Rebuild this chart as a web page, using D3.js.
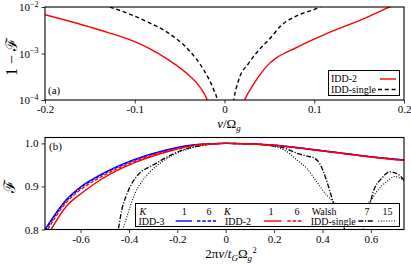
<!DOCTYPE html>
<html>
<head>
<meta charset="utf-8">
<script src="https://cdn.jsdelivr.net/npm/d3@7"></script>
<style>
  body { margin: 0; background: #fff; }
  svg text { font-family: "Liberation Serif", "Times New Roman", serif; fill: #000; }
  .domain { display: none; }
</style>
</head>
<body>
<svg id="chart" width="411" height="264"></svg>
<script>
// ---- panel (a): 1 - F vs nu/Omega_g (log y) ----
const idd2Nu  = [-0.2, -0.139, -0.1, -0.084, -0.062, -0.04, -0.025, -0.0193, 0, 0.0225, 0.0306, 0.0454, 0.0823, 0.1189, 0.1562, 0.184, 0.2];
const idd2Inf = [6.8e-3, 3.2e-3, 1.8e-3, 1.29e-3, 7.2e-4, 3.45e-4, 1.64e-4, 1e-4, 1e-6, 1e-4, 1.93e-4, 4.9e-4, 1.4e-3, 2.94e-3, 5.7e-3, 1e-2, 1.3e-2];
const singleNu  = [-0.135, -0.128, -0.084, -0.062, -0.04, -0.023, -0.012, -0.0082, 0, 0.0103, 0.0158, 0.0269, 0.0417, 0.0491, 0.0638, 0.0823, 0.1026, 0.11];
const singleInf = [1.1e-2, 1e-2, 4.6e-3, 2.72e-3, 1.19e-3, 4.4e-4, 1.64e-4, 1e-4, 1e-6, 1e-4, 2.7e-4, 6.15e-4, 1.4e-3, 1.95e-3, 4.1e-3, 6.7e-3, 9.3e-3, 1.1e-2];
const aXTicks = [-0.2, -0.1, 0, 0.1, 0.2];
const aYTicks = [1e-2, 1e-3, 1e-4];
const aYExp = ['\u22122', '\u22123', '\u22124'];

// ---- panel (b): F vs 2*pi*nu / t_G Omega_g^2 ----
const bU = [-0.747, -0.66, -0.589, -0.519, -0.382, -0.245, -0.106, 0, 0.1, 0.2, 0.3, 0.4, 0.5, 0.6, 0.737];
const idd3K1 = [0.800, 0.8686, 0.9035, 0.9267, 0.9616, 0.985, 0.998, 1.0, 0.999, 0.996, 0.990, 0.983, 0.976, 0.969, 0.9615];
const idd3K6 = [0.797, 0.866, 0.901, 0.925, 0.960, 0.984, 0.9975, 1.0, 0.999, 0.996, 0.990, 0.983, 0.976, 0.969, 0.9615];
const idd2K1 = [0.775, 0.853, 0.887, 0.915, 0.954, 0.980, 0.9965, 1.0, 0.9985, 0.9955, 0.9895, 0.9825, 0.9755, 0.9685, 0.9605];
const idd2K6 = [0.790, 0.862, 0.897, 0.921, 0.957, 0.982, 0.997, 1.0, 0.9985, 0.9955, 0.9895, 0.9825, 0.9755, 0.9685, 0.9605];
const walsh7U = [-0.46, -0.444, -0.43, -0.41, -0.39, -0.37, -0.35, -0.33, -0.3, -0.25, -0.2, -0.1, 0, 0.1, 0.18, 0.224, 0.266, 0.3, 0.34, 0.365, 0.39, 0.41, 0.43, 0.445, 0.465, 0.493, 0.53, 0.568, 0.59, 0.61, 0.645, 0.679, 0.713, 0.737];
const walsh7F = [0.76, 0.80, 0.845, 0.880, 0.905, 0.922, 0.934, 0.941, 0.950, 0.966, 0.980, 0.995, 1.0, 0.999, 0.995, 0.992, 0.984, 0.976, 0.970, 0.966, 0.952, 0.925, 0.89, 0.862, 0.83, 0.80, 0.77, 0.80, 0.845, 0.888, 0.919, 0.934, 0.928, 0.915];
const walsh15U = [-0.44, -0.425, -0.402, -0.375, -0.347, -0.313, -0.271, -0.217, -0.15, -0.08, 0, 0.1, 0.2, 0.252, 0.293, 0.335, 0.376, 0.417, 0.452, 0.5, 0.55, 0.596, 0.624, 0.665, 0.7, 0.737];
const walsh15F = [0.77, 0.80, 0.841, 0.884, 0.911, 0.934, 0.954, 0.973, 0.988, 0.997, 1.0, 0.999, 0.993, 0.981, 0.962, 0.942, 0.911, 0.880, 0.861, 0.85, 0.852, 0.865, 0.888, 0.911, 0.923, 0.913];
const bXTicks = [-0.6, -0.4, -0.2, 0, 0.2, 0.4, 0.6];
const bYTicks = [0.8, 0.9, 1.0];

const svg = d3.select('#chart');
svg.append('rect').attr('width', 411).attr('height', 264).attr('fill', '#fff');

const L = 45, R = 404;
const A = { top: 7, bottom: 100 };
const B = { top: 137.5, bottom: 229.5 };

const xa = d3.scaleLinear().domain([-0.2, 0.2]).range([L, R]);
const ya = d3.scaleLog().domain([1e-4, 1e-2]).range([A.bottom, A.top]);
const xb = d3.scaleLinear().domain([-0.747, 0.737]).range([L, R]);
const yb = d3.scaleLinear().domain([0.8, 1.0137]).range([B.bottom, B.top]);

const defs = svg.append('defs');
defs.append('clipPath').attr('id', 'clipA').append('rect')
  .attr('x', L).attr('y', A.top).attr('width', R - L).attr('height', A.bottom - A.top);
defs.append('clipPath').attr('id', 'clipB').append('rect')
  .attr('x', L).attr('y', B.top).attr('width', R - L).attr('height', B.bottom - B.top);

function styleAxis(g, size) {
  g.selectAll('.tick line').attr('stroke', '#000').attr('stroke-width', 0.8);
  g.selectAll('.tick text').attr('font-size', size || 11).attr('fill', '#000');
}

// ---- panel (a) ----
const gA = svg.append('g');
gA.append('g').attr('transform', `translate(0,${A.bottom})`)
  .call(d3.axisBottom(xa).tickValues(aXTicks).tickFormat(d => String(d)).tickSize(3.5).tickPadding(2))
  .call(g => styleAxis(g));
const ayAxis = gA.append('g').attr('transform', `translate(${L},0)`)
  .call(d3.axisLeft(ya).tickValues(aYTicks).tickFormat('').tickSize(3.5).tickPadding(3))
  .call(g => styleAxis(g));
ayAxis.selectAll('.tick text').each(function(d, i) {
  const t = d3.select(this).text(null).attr('dy', '0.35em');
  t.append('tspan').text('10');
  t.append('tspan').attr('font-size', 8).attr('dy', '-0.55em').text(aYExp[i]);
});

const lineA = (xs, ys) => d3.line().curve(d3.curveMonotoneX)
  .x((d, i) => xa(xs[i])).y((d, i) => ya(ys[i]))(xs);
const plotA = gA.append('g').attr('clip-path', 'url(#clipA)');
plotA.append('path').attr('d', lineA(singleNu, singleInf))
  .attr('fill', 'none').attr('stroke', '#000').attr('stroke-width', 1.4).attr('stroke-dasharray', '4,2.8');
plotA.append('path').attr('d', lineA(idd2Nu, idd2Inf))
  .attr('fill', 'none').attr('stroke', '#ff0000').attr('stroke-width', 1.4);

gA.append('rect').attr('x', L).attr('y', A.top).attr('width', R - L).attr('height', A.bottom - A.top)
  .attr('fill', 'none').attr('stroke', '#000').attr('stroke-width', 1.1);
gA.append('text').attr('x', 48).attr('y', 94).attr('font-size', 11).text('(a)');

// legend (a)
const legA = gA.append('g');
legA.append('rect').attr('x', 328.5).attr('y', 70.5).attr('width', 71).attr('height', 25)
  .attr('fill', '#fff').attr('stroke', '#000').attr('stroke-width', 1);
legA.append('text').attr('x', 331).attr('y', 82).attr('font-size', 10).text('IDD-2');
legA.append('line').attr('x1', 380).attr('x2', 396).attr('y1', 79).attr('y2', 79)
  .attr('stroke', '#ff0000').attr('stroke-width', 1.4);
legA.append('text').attr('x', 331).attr('y', 92.5).attr('font-size', 10).text('IDD-single');
legA.append('line').attr('x1', 378).attr('x2', 396).attr('y1', 89.5).attr('y2', 89.5)
  .attr('stroke', '#000').attr('stroke-width', 1.4).attr('stroke-dasharray', '4,2.8');

// axis labels (a)
const xlabA = svg.append('text').attr('x', 229).attr('y', 127.5).attr('font-size', 13).attr('text-anchor', 'middle');
xlabA.append('tspan').attr('font-style', 'italic').text('\u03bd');
xlabA.append('tspan').text('/\u03a9');
xlabA.append('tspan').attr('font-style', 'italic').attr('font-size', 9).attr('dy', 3).text('g');

svg.append('text').attr('transform', 'translate(17,57) rotate(-90)')
  .attr('text-anchor', 'middle').attr('font-size', 16)
  .attr('xml:space', 'preserve')
  .text('1 \u2212 \u2131');

// ---- panel (b) ----
const gB = svg.append('g');
gB.append('g').attr('transform', `translate(0,${B.bottom})`)
  .call(d3.axisBottom(xb).tickValues(bXTicks).tickFormat(d => String(d)).tickSize(3.5).tickPadding(2))
  .call(g => styleAxis(g));
gB.append('g').attr('transform', `translate(${L},0)`)
  .call(d3.axisLeft(yb).tickValues(bYTicks).tickFormat(d3.format('.1f')).tickSize(3.5).tickPadding(3))
  .call(g => styleAxis(g));

const lineB = (xs, ys) => d3.line().curve(d3.curveMonotoneX)
  .x((d, i) => xb(xs[i])).y((d, i) => yb(ys[i]))(xs);
const plotB = gB.append('g').attr('clip-path', 'url(#clipB)');
const seriesB = [
  { x: walsh15U, y: walsh15F, color: '#000', dash: '1,1.6', w: 1.1 },
  { x: walsh7U, y: walsh7F, color: '#000', dash: '5,1.6,1.2,1.6', w: 1.3 },
  { x: bU, y: idd3K1, color: '#0000ff', dash: null, w: 1.4 },
  { x: bU, y: idd3K6, color: '#0000ff', dash: '3.5,1.8', w: 1.4 },
  { x: bU, y: idd2K6, color: '#ff0000', dash: '3.5,1.8', w: 1.4 },
  { x: bU, y: idd2K1, color: '#ff0000', dash: null, w: 1.4 }
];
seriesB.forEach(s => {
  plotB.append('path').attr('d', lineB(s.x, s.y))
    .attr('fill', 'none').attr('stroke', s.color).attr('stroke-width', s.w)
    .attr('stroke-dasharray', s.dash);
});

gB.append('rect').attr('x', L).attr('y', B.top).attr('width', R - L).attr('height', B.bottom - B.top)
  .attr('fill', 'none').attr('stroke', '#000').attr('stroke-width', 1.1);
gB.append('text').attr('x', 49).attr('y', 150).attr('font-size', 11).text('(b)');

// legend (b)
const legB = gB.append('g').attr('font-size', 10);
legB.append('rect').attr('x', 135.5).attr('y', 203.5).attr('width', 264).attr('height', 23)
  .attr('fill', '#fff').attr('stroke', '#000').attr('stroke-width', 1);
const row1 = 214.5, row2 = 224.5, lineY = 221;
const txt = (x, y, s, anchor, italic) => legB.append('text').attr('x', x).attr('y', y)
  .attr('text-anchor', anchor || 'start').attr('font-style', italic ? 'italic' : null)
  .attr('font-size', 10).text(s);
txt(139.5, row1, 'K', 'start', true);
txt(184.3, row1, '1', 'middle');
txt(209, row1, '6', 'middle');
txt(224, row1, 'K', 'start', true);
txt(271, row1, '1', 'middle');
txt(297, row1, '6', 'middle');
txt(311.7, row1, 'Walsh');
txt(367, row1, '7', 'middle');
txt(387.5, row1, '15', 'middle');
txt(138.5, row2, 'IDD-3');
txt(225, row2, 'IDD-2');
txt(310.7, row2, 'IDD-single');
const legLines = [
  [175.7, 192, '#0000ff', null, 1.4],
  [197, 216, '#0000ff', '3.5,1.8', 1.4],
  [264, 281.7, '#ff0000', null, 1.4],
  [287.3, 301.7, '#ff0000', '3.5,1.8', 1.4],
  [358.3, 374, '#000', '5,1.6,1.2,1.6', 1.3],
  [378.3, 396.7, '#000', '1,1.6', 1.1]
];
legLines.forEach(([x1, x2, c, dash, w]) => {
  legB.append('line').attr('x1', x1).attr('x2', x2).attr('y1', lineY).attr('y2', lineY)
    .attr('stroke', c).attr('stroke-width', w).attr('stroke-dasharray', dash);
});

// axis labels (b)
const xlabB = svg.append('text').attr('x', 231).attr('y', 258).attr('font-size', 13).attr('text-anchor', 'middle');
xlabB.append('tspan').text('2\u03c0');
xlabB.append('tspan').attr('font-style', 'italic').text('\u03bd');
xlabB.append('tspan').text('/');
xlabB.append('tspan').attr('font-style', 'italic').text('t');
xlabB.append('tspan').attr('font-style', 'italic').attr('font-size', 9).attr('dy', 3).text('G');
xlabB.append('tspan').attr('dy', -3).text('\u03a9');
xlabB.append('tspan').attr('font-style', 'italic').attr('font-size', 9).attr('dy', 2.5).text('g');
xlabB.append('tspan').attr('font-size', 8.5).attr('dx', 0.3).attr('dy', -7.5).text('2');

svg.append('text').attr('transform', 'translate(15,186) rotate(-90)')
  .attr('text-anchor', 'middle').attr('font-size', 16).text('\u2131');
</script>
</body>
</html>
